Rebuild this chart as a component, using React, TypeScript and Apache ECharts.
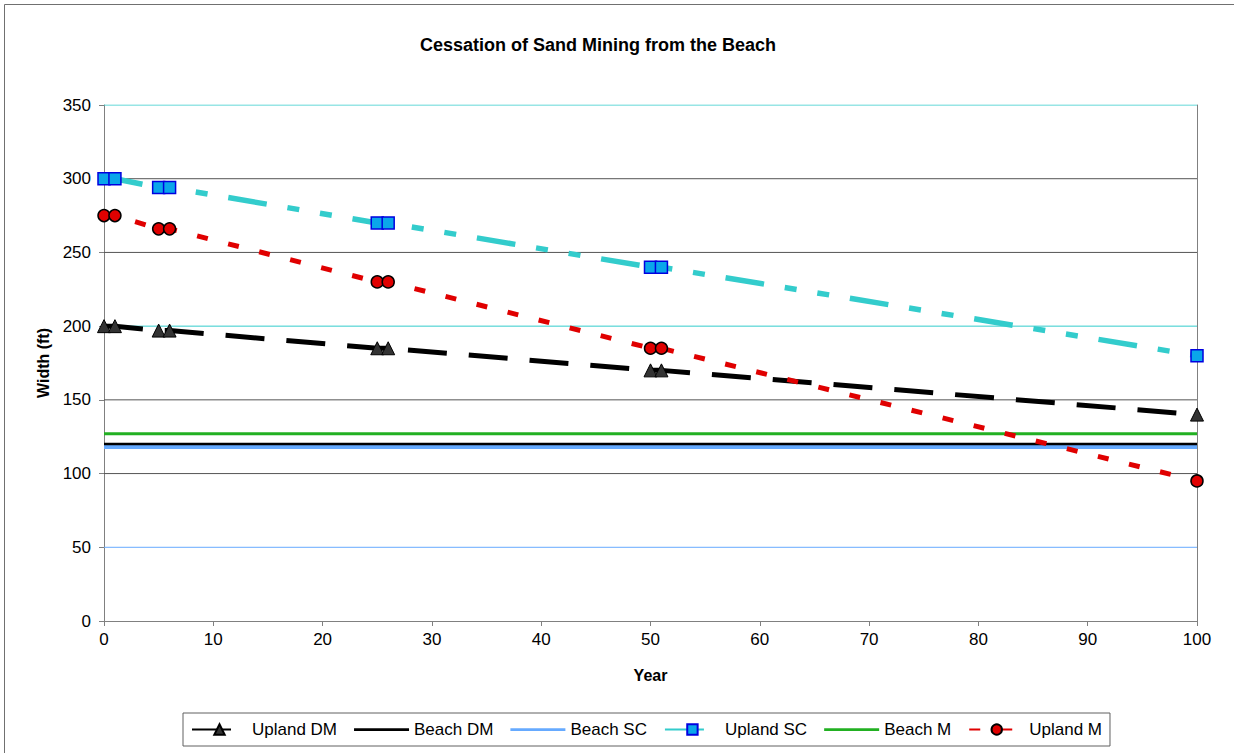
import React, { useEffect, useRef } from "react";
import * as echarts from "echarts";

const titleText = "Cessation of Sand Mining from the Beach";
const years = [0, 1, 5, 6, 25, 26, 50, 51, 100];
const uplandDM = [200, 200, 197, 197, 185, 185, 170, 170, 140];
const uplandSC = [300, 300, 294, 294, 270, 270, 240, 240, 180];
const uplandM = [275, 275, 266, 266, 230, 230, 185, 185, 95];
const beachYears = [0, 100];
const beachDM = [120, 120];
const beachSC = [118, 118];
const beachM = [127, 127];
const seriesNames = ["Upland DM", "Beach DM", "Beach SC", "Upland SC", "Beach M", "Upland M"];
const gridValues = [50, 100, 150, 200, 250, 300, 350];
const gridColors = ["#66AAFF", "#555555", "#555555", "#33CCCC", "#555555", "#555555", "#33CCCC"];

const FONT = "'Liberation Sans', Arial, sans-serif";
const LINE_ICON = "path://M0,0 L60,0 L60,3 L0,3 Z";

function pairs(xs: number[], ys: number[]) {
  return xs.map((x, i) => [x, ys[i]]);
}

export default function App() {
  const ref = useRef<HTMLDivElement>(null);
  useEffect(() => {
    if (!ref.current) return;
    const chart = echarts.init(ref.current, undefined, { renderer: "svg" });
    const gridSeries = gridValues.map((v, i) => ({
      name: "grid" + v,
      type: "line",
      data: pairs(beachYears, [v, v]),
      symbol: "none",
      silent: true,
      z: 1,
      lineStyle: { color: gridColors[i], width: 1, type: "solid" },
    }));
    chart.setOption({
      animation: false,
      backgroundColor: "#ffffff",
      textStyle: { fontFamily: FONT },
      title: {
        text: titleText,
        left: 415,
        top: 31,
        textStyle: { fontFamily: FONT, fontSize: 18, fontWeight: "bold", color: "#000" },
      },
      graphic: [
        {
          type: "rect",
          shape: { x: 4.5, y: 4.5, width: 1240, height: 760 },
          style: { fill: "none", stroke: "#707070", lineWidth: 1 },
          silent: true,
          z: -1,
        },
      ],
      legend: {
        data: seriesNames.map((n) =>
          n.startsWith("Beach") ? { name: n, icon: LINE_ICON } : { name: n }
        ),
        left: 183,
        top: 713,
        orient: "horizontal",
        itemWidth: 55,
        itemHeight: 13,
        itemGap: 17,
        padding: [8, 8],
        borderColor: "#606060",
        borderWidth: 1,
        textStyle: { fontFamily: FONT, fontSize: 17, color: "#000" },
      },
      grid: {
        left: 104,
        right: 37,
        top: 105,
        bottom: 132,
        show: false,
      },
      xAxis: {
        type: "value",
        min: 0,
        max: 100,
        interval: 10,
        name: "Year",
        nameLocation: "middle",
        nameGap: 46,
        nameTextStyle: { fontFamily: FONT, fontSize: 16, fontWeight: "bold", color: "#000" },
        axisLine: { show: true, lineStyle: { color: "#808080", width: 1 } },
        axisTick: { show: true, length: 5, lineStyle: { color: "#808080" } },
        axisLabel: { fontFamily: FONT, fontSize: 17, color: "#000", margin: 10 },
        splitLine: { show: false },
      },
      yAxis: [
        {
          type: "value",
          min: 0,
          max: 350,
          interval: 50,
          name: "Width (ft)",
          nameLocation: "middle",
          nameRotate: 90,
          nameGap: 53,
          nameTextStyle: { fontFamily: FONT, fontSize: 16, fontWeight: "bold", color: "#000" },
          axisLine: { show: true, lineStyle: { color: "#808080", width: 1 } },
          axisTick: { show: true, length: 5, lineStyle: { color: "#808080" } },
          axisLabel: { fontFamily: FONT, fontSize: 17, color: "#000", margin: 13 },
          splitLine: { show: false },
        },
        {
          type: "value",
          position: "right",
          min: 0,
          max: 350,
          interval: 50,
          axisLine: { show: true, lineStyle: { color: "#808080", width: 1 } },
          axisTick: { show: false },
          axisLabel: { show: false },
          splitLine: { show: false },
        },
      ],
      series: [
        ...gridSeries,
        {
          name: "Upland DM",
          type: "line",
          data: pairs(years, uplandDM),
          symbol: "triangle",
          symbolSize: 13,
          itemStyle: { color: "#333333", borderColor: "#000", borderWidth: 1 },
          lineStyle: { color: "#000", width: 5, type: [39, 22] },
          z: 3,
        },
        {
          name: "Beach DM",
          type: "line",
          data: pairs(beachYears, beachDM),
          symbol: "none",
          itemStyle: { color: "#000" },
          lineStyle: { color: "#000", width: 2.5 },
          z: 3,
        },
        {
          name: "Beach SC",
          type: "line",
          data: pairs(beachYears, beachSC),
          symbol: "none",
          itemStyle: { color: "#66AAFF" },
          lineStyle: { color: "#66AAFF", width: 4 },
          z: 2,
        },
        {
          name: "Upland SC",
          type: "line",
          data: pairs(years, uplandSC),
          symbol: "rect",
          symbolSize: 12,
          itemStyle: { color: "#0AA6EA", borderColor: "#0000E0", borderWidth: 1.5 },
          lineStyle: { color: "#33CCCC", width: 5.5, type: [39, 21, 12, 21, 12, 21] },
          z: 3,
        },
        {
          name: "Beach M",
          type: "line",
          data: pairs(beachYears, beachM),
          symbol: "none",
          itemStyle: { color: "#22B022" },
          lineStyle: { color: "#22B022", width: 3 },
          z: 3,
        },
        {
          name: "Upland M",
          type: "line",
          data: pairs(years, uplandM),
          symbol: "circle",
          symbolSize: 12,
          itemStyle: { color: "#E00000", borderColor: "#000", borderWidth: 1.5 },
          lineStyle: { color: "#E00000", width: 5, type: [11, 21] },
          z: 3,
        },
      ],
    });
    return () => chart.dispose();
  }, []);
  return (
    <div
      ref={ref}
      style={{ position: "absolute", left: 0, top: 0, width: 1234, height: 753 }}
    />
  );
}
